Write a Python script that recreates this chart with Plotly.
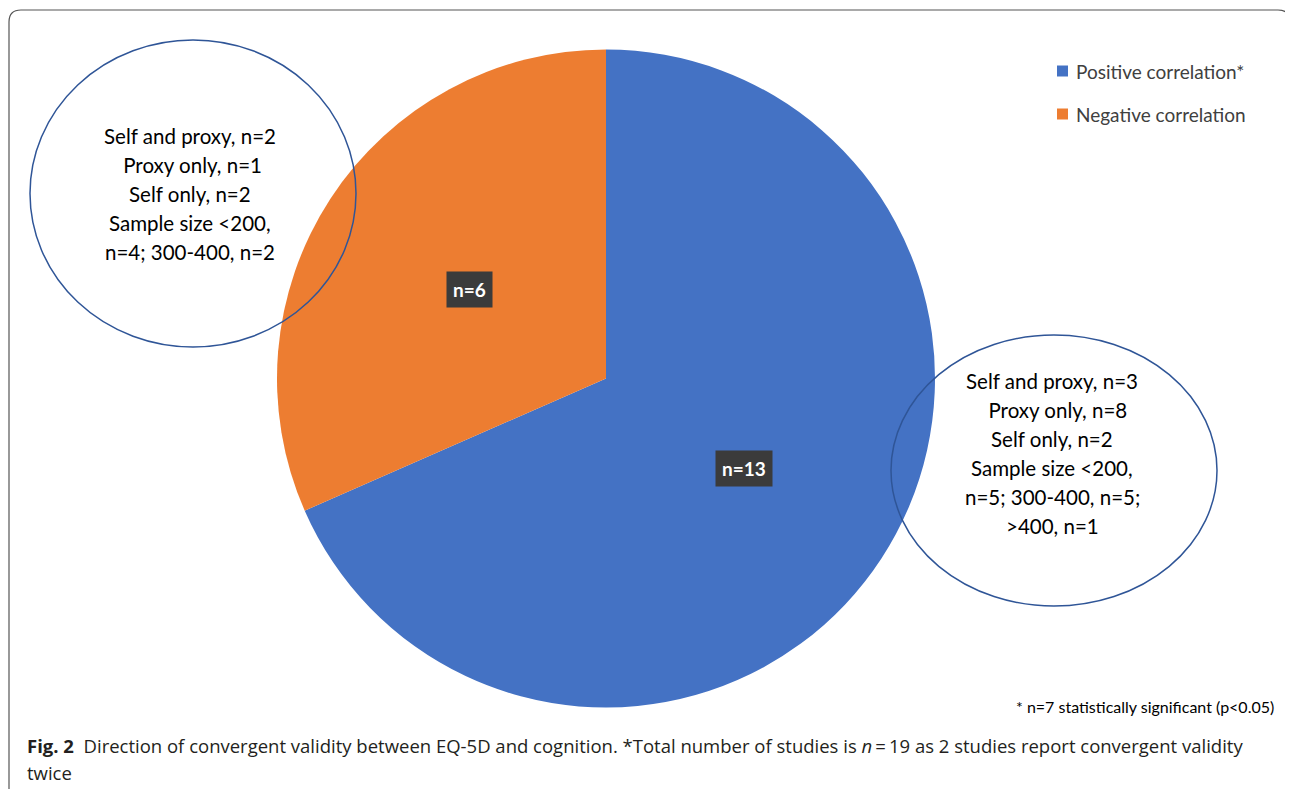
import plotly.graph_objects as go

labels = ["Positive correlation*", "Negative correlation"]
values = [13, 6]
colors = ["#4472C4", "#ED7D31"]
slice_labels = ["n=13", "n=6"]
left_note = ["Self and proxy, n=2", " Proxy only, n=1", "Self only, n=2", "Sample size <200,", "n=4; 300-400, n=2"]
right_note = ["Self and proxy, n=3", "  Proxy only, n=8", "Self only, n=2", "Sample size <200,", "n=5; 300-400, n=5;", ">400, n=1"]
footnote = "* n=7 statistically significant (p<0.05)"
caption1 = "<b>Fig. 2</b>  Direction of convergent validity between EQ-5D and cognition. *Total number of studies is <i>n</i>\u2009=\u200919 as 2 studies report convergent validity"
caption2 = "twice"

W, H = 1293, 789
OFF = 8  # page body margin
Wf, Hf = W - OFF, H - OFF
cx, cy, r = 606, 378.5, 329

fig = go.Figure()
fig.add_trace(go.Pie(
    labels=labels, values=values, sort=False, direction="clockwise", rotation=0,
    marker=dict(colors=colors, line=dict(width=0)), textinfo="none", hoverinfo="label+value",
    domain=dict(x=[(cx - OFF - r) / Wf, (cx - OFF + r) / Wf], y=[(H - cy - r) / Hf, (H - cy + r) / Hf]),
    showlegend=False,
))

FONT = "Lato, Open Sans"

# legend
for i, (lab, col) in enumerate(zip(labels, colors)):
    y = 71 + i * 43
    fig.add_shape(type="rect", xref="x", yref="y", x0=1057, x1=1068, y0=y - 5.5, y1=y + 5.5,
                  fillcolor=col, line=dict(width=0))
    fig.add_annotation(x=1074, y=y, xref="x", yref="y", text=lab, showarrow=False, xanchor="left",
                       yanchor="middle", font=dict(family=FONT, size=19, color="#404040"))

# slice labels
for txt, (x, y) in zip(slice_labels, [(744, 468.5), (469.5, 289.5)]):
    fig.add_annotation(x=x, y=y, xref="x", yref="y", text="<b>" + txt + "</b>", showarrow=False,
                       bgcolor="#3b3b3b", borderpad=6, font=dict(family=FONT, size=19, color="white"))

# circles
fig.add_shape(type="circle", xref="x", yref="y", x0=30, x1=356, y0=40, y1=347,
              line=dict(color="#2F5597", width=1.5), fillcolor="rgba(0,0,0,0)")
fig.add_shape(type="circle", xref="x", yref="y", x0=891, x1=1217, y0=335, y1=606,
              line=dict(color="#2F5597", width=1.5), fillcolor="rgba(0,0,0,0)")

for i, line in enumerate(left_note):
    fig.add_annotation(x=190, y=136 + i * 29, xref="x", yref="y", text=line, showarrow=False,
                       font=dict(family=FONT, size=20.5, color="black"))
for i, line in enumerate(right_note):
    fig.add_annotation(x=1052, y=381 + i * 29, xref="x", yref="y", text=line, showarrow=False,
                       font=dict(family=FONT, size=20.5, color="black"))

fig.add_annotation(x=1276, y=706, xref="x", yref="y", text=footnote, showarrow=False, xanchor="right",
                   font=dict(family=FONT, size=16, color="black"))

fig.add_annotation(x=25, y=745, xref="x", yref="y", text=caption1, showarrow=False, xanchor="left",
                   font=dict(family="Open Sans", size=18.5, color="#231F20"))
fig.add_annotation(x=25, y=772, xref="x", yref="y", text=caption2, showarrow=False, xanchor="left",
                   font=dict(family="Open Sans", size=18.5, color="#231F20"))

# frame
rr = 12
x0, y0, x1, y1 = 9, 10, 1290, 800
path = (f"M {x0+rr},{y0} L {x1-rr},{y0} Q {x1},{y0} {x1},{y0+rr} L {x1},{y1-rr} Q {x1},{y1} {x1-rr},{y1} "
        f"L {x0+rr},{y1} Q {x0},{y1} {x0},{y1-rr} L {x0},{y0+rr} Q {x0},{y0} {x0+rr},{y0} Z")
fig.add_shape(type="path", xref="x", yref="y", path=path, line=dict(color="#555555", width=1.2))

fig.update_layout(
    width=Wf, height=Hf, margin=dict(l=0, r=0, t=0, b=0),
    paper_bgcolor="white", plot_bgcolor="rgba(0,0,0,0)",
    xaxis=dict(range=[OFF, W], visible=False, domain=[0, 1], fixedrange=True),
    yaxis=dict(range=[H, OFF], visible=False, domain=[0, 1], fixedrange=True),
    showlegend=False,
)
fig.write_html("out.html")
